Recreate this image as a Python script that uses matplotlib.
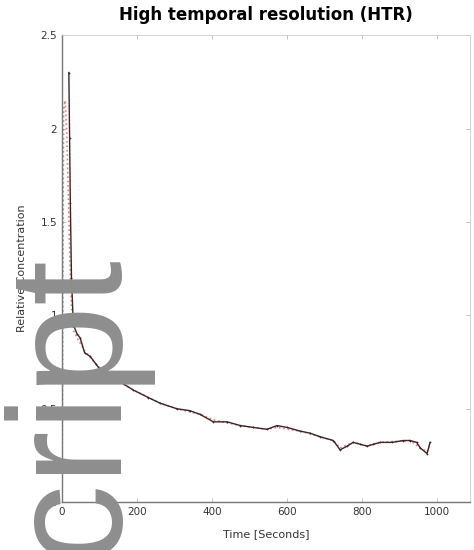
import numpy as np
import matplotlib
matplotlib.use("Agg")
import matplotlib.pyplot as plt

# measured (black) and smoothed (red dotted) relative concentration
t_meas = [18, 20, 22, 25, 30, 40, 48, 60, 75, 90, 105, 122, 150, 190, 230, 261,
          306, 340, 368, 403, 440, 475, 510, 546, 573, 600, 635, 660, 688, 723,
          741, 760, 776, 795, 813, 830, 848, 880, 910, 928, 945, 955, 973, 981]
c_meas = [2.30, 1.95, 1.60, 1.20, 0.95, 0.90, 0.88, 0.80, 0.78, 0.74, 0.70, 0.68,
          0.65, 0.60, 0.56, 0.53, 0.50, 0.49, 0.47, 0.43, 0.43, 0.41, 0.40, 0.39,
          0.41, 0.40, 0.38, 0.37, 0.35, 0.33, 0.28, 0.30, 0.32, 0.31, 0.30, 0.31,
          0.32, 0.32, 0.33, 0.33, 0.32, 0.29, 0.26, 0.32]

t_fit = [0, 4, 8, 12, 16, 20, 25, 30, 40, 60, 90, 122, 190, 261, 306, 368, 403,
         475, 546, 573, 635, 688, 723, 741, 776, 813, 848, 928, 955, 973, 981]
c_fit = [0.05, 2.10, 2.15, 2.00, 1.70, 1.35, 1.05, 0.92, 0.88, 0.81, 0.74, 0.68,
         0.60, 0.53, 0.50, 0.47, 0.44, 0.41, 0.39, 0.40, 0.38, 0.35, 0.33, 0.29,
         0.32, 0.30, 0.32, 0.33, 0.29, 0.27, 0.31]

fig = plt.figure(figsize=(4.74, 5.5), dpi=100)
ax = fig.add_axes([0.131, 0.087, 0.861, 0.849])

ax.plot(t_fit, c_fit, ':', color='#e0505a', lw=1.2, alpha=0.75)
ax.plot(t_meas, c_meas, '-', color='#3a2626', lw=1.0, marker='+', ms=2, mew=0.5)

ax.set_xlim(0, 1088)
ax.set_ylim(0, 2.5)
ax.set_xticks([0, 200, 400, 600, 800, 1000])
ax.set_yticks([0, 0.5, 1, 1.5, 2, 2.5])
ax.set_yticklabels(['0', '0.5', '1', '1.5', '2', '2.5'])
ax.tick_params(labelsize=7.5, colors='#aaaaaa', labelcolor='#333333', length=3,
               width=0.5, direction='in', top=True, right=True)
for s in ['top', 'right']:
    ax.spines[s].set_color('#cccccc')
    ax.spines[s].set_linewidth(0.6)
for s in ['left', 'bottom']:
    ax.spines[s].set_color('#777777')
    ax.spines[s].set_linewidth(1.0)

ax.set_title('High temporal resolution (HTR)', fontsize=12, fontweight='bold', pad=11)
ax.set_xlabel('Time [Seconds]', fontsize=8, color='#333333', labelpad=9)
ax.set_ylabel('Relative Concentration', fontsize=8, color='#333333', labelpad=10)

# gray watermark overlay
fig.text(118 / 474, 1 - 255 / 550, 'script', rotation=90, rotation_mode='anchor',
         ha='right', va='baseline', fontsize=116, family='Liberation Sans',
         color='#8e8e8e')

fig.savefig('out.png', dpi=100)
